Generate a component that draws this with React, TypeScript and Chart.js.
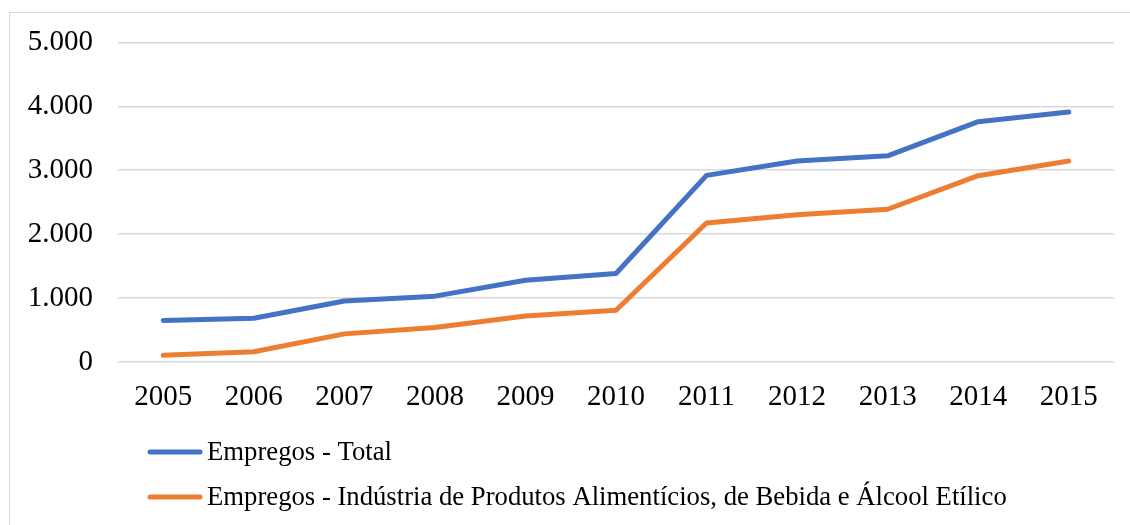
import React, { useEffect, useRef } from "react";
import { Chart, registerables } from "chart.js";

Chart.register(...registerables);

const years = ["2005", "2006", "2007", "2008", "2009", "2010", "2011", "2012", "2013", "2014", "2015"];
const empregosTotal = [650, 685, 955, 1030, 1280, 1385, 2920, 3145, 3225, 3760, 3910];
const empregosIndustria = [105, 160, 440, 540, 720, 810, 2175, 2305, 2390, 2915, 3145];
const seriesLabels = [
  "Empregos - Total",
  "Empregos - Indústria de Produtos Alimentícios, de Bebida e Álcool Etílico",
];
const seriesColors = ["#4472C4", "#ED7D31"];
const yTicks = [0, 1000, 2000, 3000, 4000, 5000];

const FONT = "'Liberation Serif', 'Times New Roman', serif";

const fmt = (v: number) => {
  const s = Math.round(v).toString();
  return s.replace(/\B(?=(\d{3})+(?!\d))/g, ".");
};

const framePlugin = {
  id: "frame",
  beforeDraw(chart: any) {
    const ctx = chart.ctx;
    ctx.save();
    ctx.fillStyle = "#ffffff";
    ctx.fillRect(0, 0, chart.width, chart.height);
    ctx.strokeStyle = "#D9D9D9";
    ctx.lineWidth = 1;
    ctx.strokeRect(9.5, 12.5, chart.width + 20, chart.height + 20);
    ctx.restore();
  },
};

const stackedLegendPlugin = {
  id: "stackedLegend",
  afterDraw(chart: any) {
    const ctx = chart.ctx;
    ctx.save();
    ctx.font = `26.7px ${FONT}`;
    ctx.textBaseline = "middle";
    ctx.textAlign = "left";
    const x0 = 148;
    const lineLen = 54;
    const rows = [452, 497];
    chart.data.datasets.forEach((ds: any, i: number) => {
      const y = rows[i];
      ctx.strokeStyle = ds.borderColor;
      ctx.lineWidth = 5;
      ctx.lineCap = "round";
      ctx.beginPath();
      ctx.moveTo(x0 + 2, y);
      ctx.lineTo(x0 + lineLen - 2, y);
      ctx.stroke();
      ctx.fillStyle = "#000000";
      ctx.fillText(ds.label, x0 + lineLen + 5, y + 1);
    });
    ctx.restore();
  },
};

export default function App() {
  const ref = useRef<HTMLCanvasElement | null>(null);

  useEffect(() => {
    if (!ref.current) return;
    const chart = new Chart(ref.current, {
      type: "line",
      data: {
        labels: years,
        datasets: [
          {
            label: seriesLabels[0],
            data: empregosTotal,
            borderColor: seriesColors[0],
            backgroundColor: seriesColors[0],
            borderWidth: 5,
            pointRadius: 0,
            tension: 0,
            borderCapStyle: "round",
            borderJoinStyle: "round",
          },
          {
            label: seriesLabels[1],
            data: empregosIndustria,
            borderColor: seriesColors[1],
            backgroundColor: seriesColors[1],
            borderWidth: 5,
            pointRadius: 0,
            tension: 0,
            borderCapStyle: "round",
            borderJoinStyle: "round",
          },
        ],
      },
      options: {
        responsive: false,
        animation: false,
        devicePixelRatio: 1,
        layout: { padding: { left: 0, right: 16, top: 42, bottom: 103 } },
        plugins: {
          legend: { display: false },
          tooltip: { enabled: false },
        },
        scales: {
          x: {
            offset: true,
            grid: { display: false, drawTicks: false },
            border: { display: false },
            ticks: {
              color: "#000000",
              font: { family: FONT, size: 29 },
              padding: 18,
              maxRotation: 0,
              autoSkip: false,
            },
            afterFit(scale: any) {
              scale.height = 60;
            },
          },
          y: {
            min: 0,
            max: 5000,
            afterBuildTicks(scale: any) {
              scale.ticks = yTicks.map((v) => ({ value: v }));
            },
            grid: { color: "#D9D9D9", lineWidth: 1.5, drawTicks: false },
            border: { display: false },
            ticks: {
              color: "#000000",
              font: { family: FONT, size: 29 },
              padding: 25,
              callback: (v: any) => fmt(Number(v)),
            },
            afterFit(scale: any) {
              scale.width = 118;
            },
          },
        },
      },
      plugins: [framePlugin, stackedLegendPlugin],
    });
    return () => chart.destroy();
  }, []);

  return (
    <div style={{ position: "fixed", left: 0, top: 0, width: 1130, height: 525, background: "#fff" }}>
      <canvas ref={ref} width={1130} height={525} style={{ display: "block" }} />
    </div>
  );
}
